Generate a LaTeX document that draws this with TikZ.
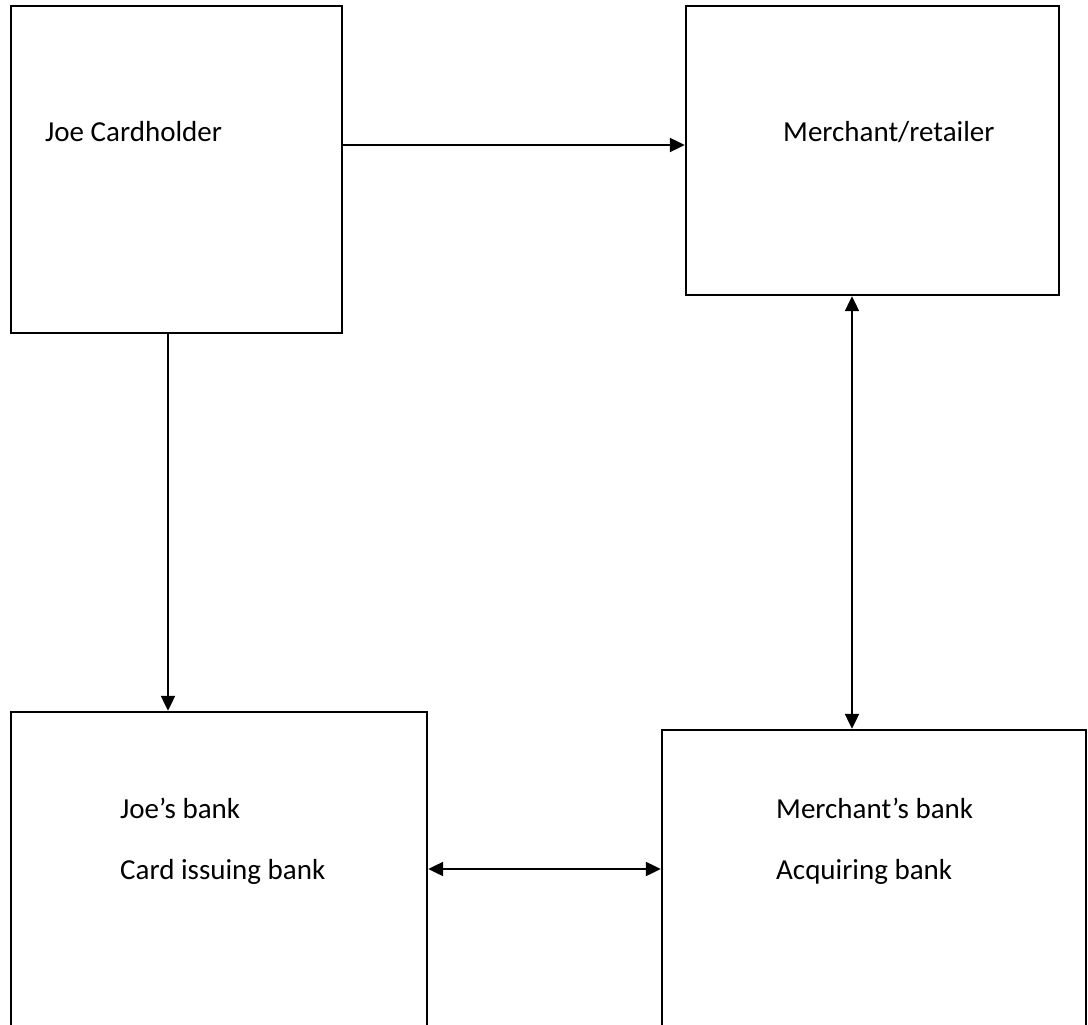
\documentclass[tikz,border=0pt]{standalone}
\usepackage{fontspec}
\setmainfont{Carlito}
\usetikzlibrary{arrows.meta}
\begin{document}
\begin{tikzpicture}[x=1pt,y=-1pt,
  box/.style={draw=black,line width=2.4pt,inner sep=0pt,fill=none},
  lbl/.style={anchor=base west,inner sep=0pt,font=\fontsize{29}{34}\selectfont},
  arr/.style={line width=2.2pt,-{Triangle[length=15pt,width=14pt]}},
  darr/.style={line width=2.2pt,{Triangle[length=15pt,width=14pt]}-{Triangle[length=15pt,width=14pt]}}]
\useasboundingbox (0,0) rectangle (1088,1025);
\fill[white] (0,0) rectangle (1088,1025);
\clip (0,0) rectangle (1088,1025);
\node[box,minimum width=331pt,minimum height=327pt] (card) at (176.5,169.5) {};
\node[box,minimum width=373pt,minimum height=289pt] (merch) at (872.5,150.5) {};
\node[box,minimum width=416pt,minimum height=328pt] (jbank) at (219,876) {};
\node[box,minimum width=424pt,minimum height=310pt] (mbank) at (874,885) {};
\node[lbl] (t1) at (45,142) {Joe Cardholder};
\node[lbl] (t2) at (783,142) {Merchant/retailer};
\node[lbl] (t3) at (120,818) {Joe’s bank};
\node[lbl] (t4) at (120,879) {Card issuing bank};
\node[lbl] (t5) at (776,818) {Merchant’s bank};
\node[lbl] (t6) at (776,879) {Acquiring bank};
\coordinate (ya) at (0,145);
\coordinate (yb) at (0,869);
\coordinate (xa) at (168,0);
\coordinate (xb) at (852,0);
\draw[arr] (card.east |- ya) -- (merch.west |- ya);
\draw[arr] (card.south -| xa) -- (jbank.north -| xa);
\draw[darr] (merch.south -| xb) -- (mbank.north -| xb);
\draw[darr] (jbank.east |- yb) -- (mbank.west |- yb);
\end{tikzpicture}
\end{document}
